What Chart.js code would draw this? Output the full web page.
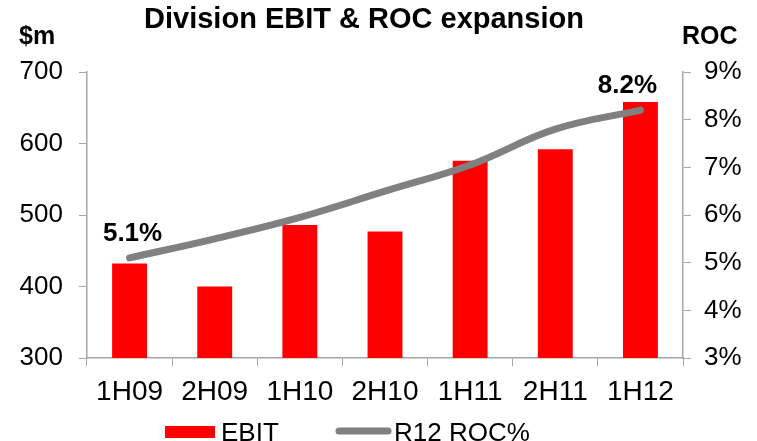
<!DOCTYPE html>
<html>
<head>
<meta charset="utf-8">
<script src="https://cdn.jsdelivr.net/npm/chart.js@4"></script>
<style>
  html, body { margin: 0; padding: 0; background: #fff; }
  #wrap { width: 757px; height: 441px; }
</style>
</head>
<body>
<div id="wrap"><canvas id="chart" width="757" height="441"></canvas></div>
<script>
// chart data
const categories = ["1H09", "2H09", "1H10", "2H10", "1H11", "2H11", "1H12"]
const ebit = [432, 400, 486, 477, 576, 592, 658]
const roc = [5.1, 5.5, 5.95, 6.5, 7.05, 7.8, 8.2]
const leftTicks = [300, 400, 500, 600, 700]
const rightTicks = [3, 4, 5, 6, 7, 8, 9]
const rocLabelIdx = [0, 6]

const FONT = "'Liberation Sans', Arial, sans-serif"
const AXIS_GREY = "#a6a6a6"

// title, unit labels, point labels and legend drawn on top
let Decorations = {
  id: "decorations",
  afterDraw(chart) {
    const ctx = chart.ctx
    ctx.save()
    ctx.fillStyle = "#000"
    ctx.textBaseline = "middle"

    ctx.font = "bold 29px " + FONT
    ctx.textAlign = "center"
    ctx.fillText("Division EBIT & ROC expansion", 364, 20)

    ctx.font = "bold 25px " + FONT
    ctx.textAlign = "left"
    ctx.fillText("$m", 19, 37)
    ctx.fillText("ROC", 682, 37)

    // first and last ROC values
    const meta = chart.getDatasetMeta(1)
    ctx.font = "bold 26px " + FONT
    ctx.textAlign = "center"
    rocLabelIdx.forEach((i, k) => {
      const pt = meta.data[i]
      const dx = k === 0 ? 3 : -13
      ctx.fillText(roc[i].toFixed(1) + "%", pt.x + dx, pt.y - 24)
    })

    // legend
    const bars = chart.data.datasets[0]
    const line = chart.data.datasets[1]
    ctx.font = "26px " + FONT
    ctx.textAlign = "left"
    ctx.textBaseline = "alphabetic"
    ctx.fillStyle = bars.backgroundColor
    ctx.fillRect(165, 426, 50, 12)
    ctx.fillStyle = "#000"
    ctx.fillText(bars.label, 221, 441)

    ctx.strokeStyle = line.borderColor
    ctx.lineWidth = 7
    ctx.lineCap = "round"
    ctx.beginPath()
    ctx.moveTo(339, 431)
    ctx.lineTo(388, 431)
    ctx.stroke()
    ctx.fillStyle = "#000"
    ctx.fillText(line.label, 394, 441)
    ctx.restore()
  }
}

new Chart(document.getElementById("chart"), {
  type: "bar",
  data: {
    labels: categories,
    datasets: [
      {
        label: "EBIT",
        data: ebit,
        backgroundColor: "#ff0000",
        borderWidth: 0,
        barPercentage: 0.41,
        categoryPercentage: 1,
        yAxisID: "y",
        order: 1
      },
      {
        type: "line",
        label: "R12 ROC%",
        data: roc,
        borderColor: "#808080",
        borderWidth: 7,
        borderCapStyle: "round",
        pointRadius: 0,
        tension: 0.4,
        fill: false,
        yAxisID: "y2",
        order: 0
      }
    ]
  },
  options: {
    responsive: false,
    animation: false,
    layout: { padding: { top: 72, left: 0, right: 0, bottom: 0 } },
    plugins: {
      legend: { display: false },
      title: { display: false },
      tooltip: { enabled: false }
    },
    scales: {
      x: {
        grid: { drawOnChartArea: false, drawTicks: true, tickLength: 8, color: AXIS_GREY, offset: true },
        border: { color: AXIS_GREY, width: 1.5 },
        ticks: { color: "#000", font: { family: FONT, size: 28 }, padding: 9, maxRotation: 0, autoSkip: false },
        afterFit(scale) { scale.height = 83 }
      },
      y: {
        position: "left",
        min: leftTicks[0],
        max: leftTicks[leftTicks.length - 1],
        afterBuildTicks(scale) { scale.ticks = leftTicks.map(v => ({ value: v })) },
        grid: { drawOnChartArea: false, drawTicks: true, tickLength: 8, color: AXIS_GREY },
        border: { color: AXIS_GREY, width: 1.5 },
        ticks: { color: "#000", font: { family: FONT, size: 26 }, padding: 16 },
        afterFit(scale) { scale.width = 87 }
      },
      y2: {
        position: "right",
        min: rightTicks[0],
        max: rightTicks[rightTicks.length - 1],
        afterBuildTicks(scale) { scale.ticks = rightTicks.map(v => ({ value: v })) },
        grid: { drawOnChartArea: false, drawTicks: true, tickLength: 8, color: AXIS_GREY },
        border: { color: AXIS_GREY, width: 1.5 },
        ticks: { color: "#000", font: { family: FONT, size: 26 }, padding: 13, callback: v => v + "%" },
        afterFit(scale) { scale.width = 74 }
      }
    }
  },
  plugins: [Decorations]
})
</script>
</body>
</html>
